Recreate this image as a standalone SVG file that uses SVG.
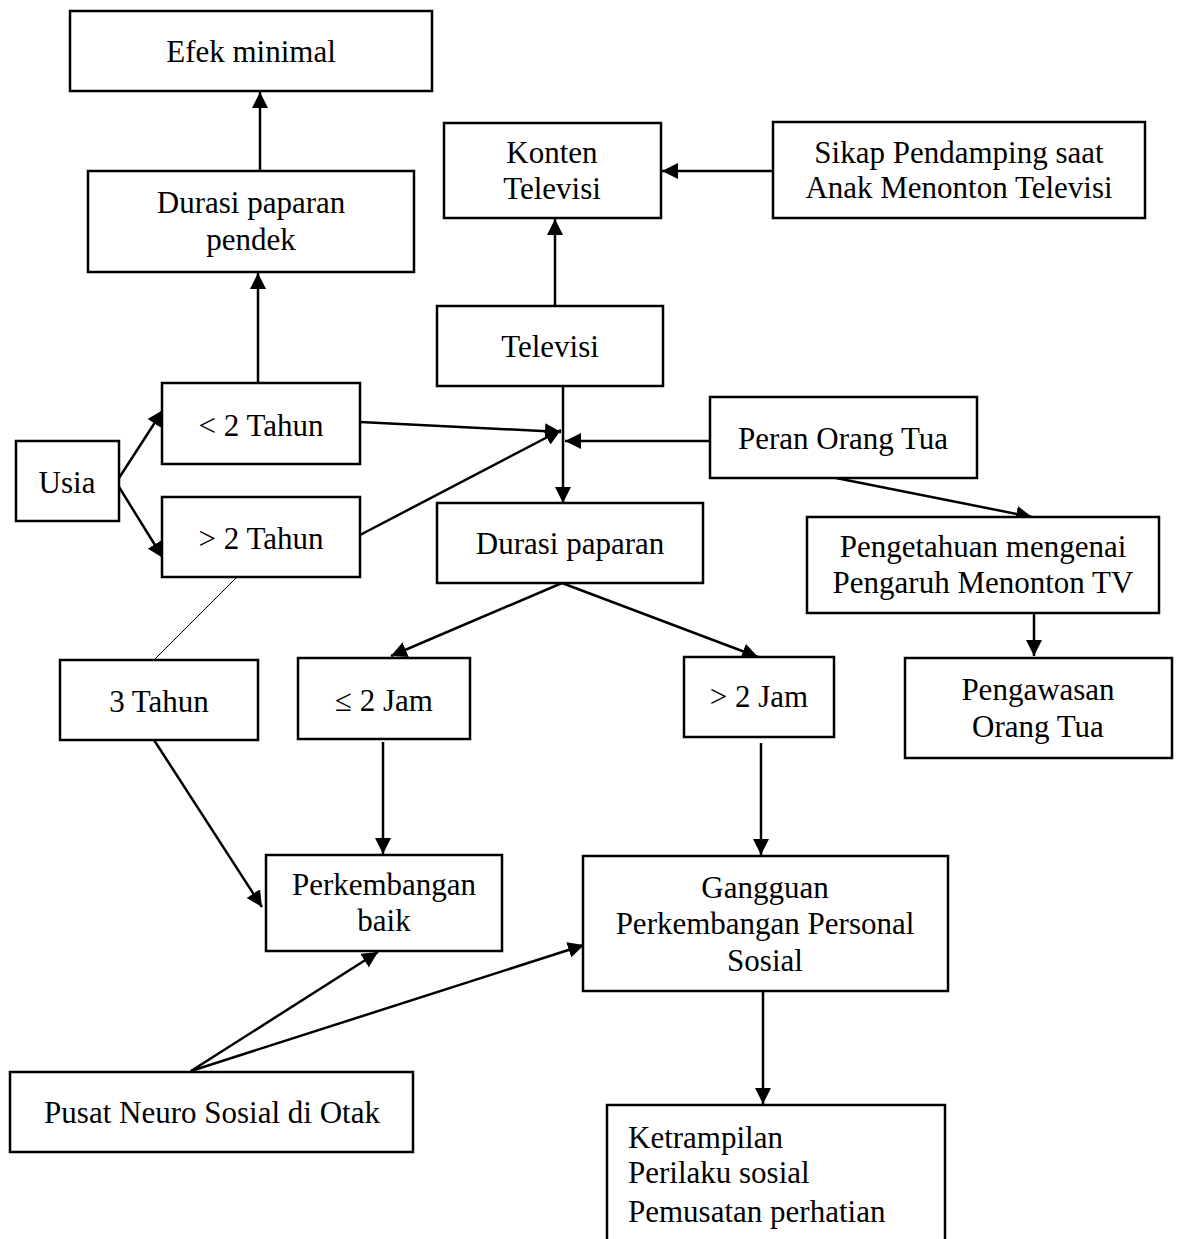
<svg xmlns="http://www.w3.org/2000/svg" width="1179" height="1239" viewBox="0 0 1179 1239">
<style>
.box{fill:#fff;stroke:#000;stroke-width:2.5}
.t{font-family:"Liberation Serif","Times New Roman",serif;font-size:31px;fill:#000;text-anchor:middle}
.tl{font-family:"Liberation Serif","Times New Roman",serif;font-size:31px;fill:#000;text-anchor:start}
.c{stroke:#000;stroke-width:2.5;fill:none;marker-end:url(#ah)}
.thin{stroke:#000;stroke-width:1;fill:none}
</style>
<defs>
<marker id="ah" viewBox="0 0 16 16" markerWidth="16" markerHeight="16" refX="16" refY="8" orient="auto" markerUnits="userSpaceOnUse">
<path d="M0,0 L16,8 L0,16 z" fill="#000"/>
</marker>
</defs>
<rect width="1179" height="1239" fill="#fff"/>
<g id="connectors">
<line class="c" x1="260" y1="171" x2="260" y2="92"/>
<line class="c" x1="258" y1="383" x2="258" y2="273"/>
<line class="c" x1="555" y1="306" x2="555" y2="219"/>
<line class="c" x1="773" y1="171" x2="662" y2="171"/>
<line class="c" x1="119" y1="478" x2="163" y2="410"/>
<line class="c" x1="119" y1="487" x2="163" y2="558"/>
<line class="c" x1="360" y1="422" x2="561" y2="432"/>
<line class="c" x1="360" y1="535" x2="561" y2="430"/>
<line class="c" x1="563" y1="386" x2="563" y2="503"/>
<line class="c" x1="710" y1="441" x2="565" y2="441"/>
<line class="c" x1="836" y1="478" x2="1032" y2="517"/>
<line class="c" x1="1034" y1="613" x2="1034" y2="656"/>
<line class="c" x1="562" y1="583" x2="391" y2="656"/>
<line class="c" x1="562" y1="583" x2="758" y2="657"/>
<line class="thin" x1="237" y1="577" x2="154" y2="660"/>
<line class="c" x1="154" y1="740" x2="262" y2="907"/>
<line class="c" x1="383" y1="742" x2="383" y2="854"/>
<line class="c" x1="761" y1="743" x2="761" y2="855"/>
<line class="c" x1="191" y1="1071" x2="378" y2="952"/>
<line class="c" x1="191" y1="1071" x2="584" y2="945"/>
<line class="c" x1="763" y1="991" x2="763" y2="1104"/>
</g>
<g id="efek-minimal"><rect class="box" x="70" y="11" width="362" height="80"/><text class="t" x="251" y="62">Efek minimal</text></g>
<g id="durasi-pendek"><rect class="box" x="88" y="171" width="326" height="101"/><text class="t" x="251" y="213">Durasi paparan</text><text class="t" x="251" y="250">pendek</text></g>
<g id="konten"><rect class="box" x="444" y="123" width="217" height="95"/><text class="t" x="552" y="163">Konten</text><text class="t" x="552" y="199">Televisi</text></g>
<g id="sikap"><rect class="box" x="773" y="122" width="372" height="96"/><text class="t" x="959" y="163">Sikap Pendamping saat</text><text class="t" x="959" y="198">Anak Menonton Televisi</text></g>
<g id="televisi"><rect class="box" x="437" y="306" width="226" height="80"/><text class="t" x="550" y="357">Televisi</text></g>
<g id="kurang-2-tahun"><rect class="box" x="162" y="383" width="198" height="81"/><text class="t" x="261" y="436">&lt; 2 Tahun</text></g>
<g id="usia"><rect class="box" x="16" y="441" width="103" height="80"/><text class="t" x="67" y="493">Usia</text></g>
<g id="lebih-2-tahun"><rect class="box" x="162" y="497" width="198" height="80"/><text class="t" x="261" y="549">&gt; 2 Tahun</text></g>
<g id="peran"><rect class="box" x="710" y="397" width="267" height="81"/><text class="t" x="843" y="449">Peran Orang Tua</text></g>
<g id="durasi-paparan"><rect class="box" x="437" y="503" width="266" height="80"/><text class="t" x="570" y="554">Durasi paparan</text></g>
<g id="pengetahuan"><rect class="box" x="807" y="517" width="352" height="96"/><text class="t" x="983" y="557">Pengetahuan mengenai</text><text class="t" x="983" y="593">Pengaruh Menonton TV</text></g>
<g id="tiga-tahun"><rect class="box" x="60" y="660" width="198" height="80"/><text class="t" x="159" y="712">3 Tahun</text></g>
<g id="kurang-2-jam"><rect class="box" x="298" y="658" width="172" height="81"/><text class="t" x="384" y="711">≤ 2 Jam</text></g>
<g id="lebih-2-jam"><rect class="box" x="684" y="657" width="150" height="80"/><text class="t" x="759" y="707">&gt; 2 Jam</text></g>
<g id="pengawasan"><rect class="box" x="905" y="658" width="267" height="100"/><text class="t" x="1038" y="700">Pengawasan</text><text class="t" x="1038" y="737">Orang Tua</text></g>
<g id="perkembangan-baik"><rect class="box" x="266" y="855" width="236" height="96"/><text class="t" x="384" y="895">Perkembangan</text><text class="t" x="384" y="931">baik</text></g>
<g id="gangguan"><rect class="box" x="583" y="856" width="365" height="135"/><text class="t" x="765" y="898">Gangguan</text><text class="t" x="765" y="934">Perkembangan Personal</text><text class="t" x="765" y="971">Sosial</text></g>
<g id="pusat-neuro"><rect class="box" x="10" y="1072" width="403" height="80"/><text class="t" x="212" y="1123">Pusat Neuro Sosial di Otak</text></g>
<g id="ketrampilan"><rect class="box" x="607" y="1105" width="338" height="140"/><text class="tl" x="628" y="1148">Ketrampilan</text><text class="tl" x="628" y="1183">Perilaku sosial</text><text class="tl" x="628" y="1222">Pemusatan perhatian</text></g>
</svg>
